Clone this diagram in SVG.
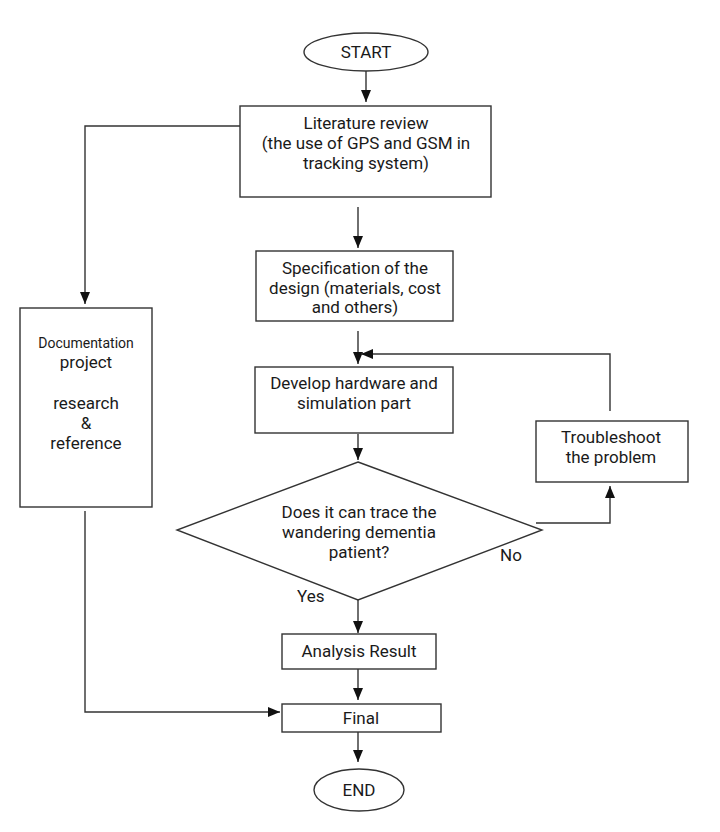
<svg xmlns="http://www.w3.org/2000/svg" width="720" height="832" viewBox="0 0 720 832">
<defs>
<marker id="ah" markerWidth="12" markerHeight="10" refX="12" refY="5" orient="auto" markerUnits="userSpaceOnUse">
<path d="M0,0 L12,5 L0,10 Z" fill="#111"/>
</marker>
<style>
.s{fill:#fff;stroke:#333;stroke-width:1.4}
.c{fill:none;stroke:#333;stroke-width:1.4}
.t{font-family:Roboto,"Liberation Sans",sans-serif;font-size:17px;fill:#1a1a1a;text-anchor:middle}
.l{font-family:Roboto,"Liberation Sans",sans-serif;font-size:17px;fill:#1a1a1a}
</style>
</defs>
<rect width="720" height="832" fill="#fff"/>
<g id="connectors">
<path class="c" d="M366,71 V102" marker-end="url(#ah)"/>
<path class="c" d="M240,126 H85 V304" marker-end="url(#ah)"/>
<path class="c" d="M358,207 V248" marker-end="url(#ah)"/>
<path class="c" d="M358,331 V364" marker-end="url(#ah)"/>
<path class="c" d="M610,411 V354 H361" marker-end="url(#ah)"/>
<path class="c" d="M358,434 V460" marker-end="url(#ah)"/>
<path class="c" d="M536,523 H610 V486" marker-end="url(#ah)"/>
<path class="c" d="M358,600 V633" marker-end="url(#ah)"/>
<path class="c" d="M358,669 V700" marker-end="url(#ah)"/>
<path class="c" d="M85,511 V712 H280" marker-end="url(#ah)"/>
<path class="c" d="M358,732 V762" marker-end="url(#ah)"/>
<text class="l" x="297" y="602">Yes</text>
<text class="l" x="500" y="561">No</text>
</g>
<g id="start">
<ellipse class="s" cx="366" cy="52" rx="62" ry="19"/>
<text class="t" x="366" y="58">START</text>
</g>
<g id="literature">
<rect class="s" x="240" y="106" width="251" height="91"/>
<text class="t" x="366" y="129">Literature review</text>
<text class="t" x="366" y="149">(the use of GPS and GSM in</text>
<text class="t" x="366" y="169">tracking system)</text>
</g>
<g id="specification">
<rect class="s" x="256" y="251" width="197" height="70"/>
<text class="t" x="355" y="274">Specification of the</text>
<text class="t" x="355" y="294">design (materials, cost</text>
<text class="t" x="355" y="313">and others)</text>
</g>
<g id="documentation">
<rect class="s" x="20" y="308" width="132" height="199"/>
<text class="t" x="86" y="348" style="font-size:14px">Documentation</text>
<text class="t" x="86" y="368">project</text>
<text class="t" x="86" y="409">research</text>
<text class="t" x="86" y="429">&amp;</text>
<text class="t" x="86" y="449">reference</text>
</g>
<g id="develop">
<rect class="s" x="255" y="367" width="198" height="66"/>
<text class="t" x="354" y="389">Develop hardware and</text>
<text class="t" x="354" y="409">simulation part</text>
</g>
<g id="troubleshoot">
<rect class="s" x="536" y="421" width="152" height="61"/>
<text class="t" x="611" y="443">Troubleshoot</text>
<text class="t" x="611" y="463">the problem</text>
</g>
<g id="decision">
<polygon class="s" points="358,462 542,530 358,600 177,530"/>
<text class="t" x="359" y="518">Does it can trace the</text>
<text class="t" x="359" y="538">wandering dementia</text>
<text class="t" x="359" y="558">patient?</text>
</g>
<g id="analysis">
<rect class="s" x="282" y="634" width="154" height="35"/>
<text class="t" x="359" y="657">Analysis Result</text>
</g>
<g id="final">
<rect class="s" x="282" y="704" width="159" height="28"/>
<text class="t" x="361" y="724">Final</text>
</g>
<g id="end">
<ellipse class="s" cx="359" cy="790" rx="45" ry="21"/>
<text class="t" x="359" y="796">END</text>
</g>
</svg>
